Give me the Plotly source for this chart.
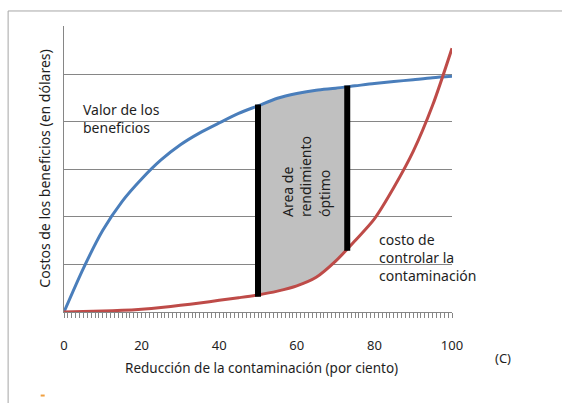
import numpy as np
import plotly.graph_objects as go

# ---- data ----
reduction_pct = [0, 5, 10, 15, 20, 25, 30, 35, 40, 45, 50,
                 55, 60, 65, 70, 75, 80, 85, 90, 95, 100]
benefit_value = [0, 0.92, 1.72, 2.33, 2.8, 3.2, 3.52, 3.77, 3.98, 4.18, 4.34,
                 4.5, 4.6, 4.67, 4.71, 4.76, 4.81, 4.85, 4.89, 4.93, 4.96]
control_cost = [0, 0.01, 0.02, 0.035, 0.06, 0.095, 0.14, 0.19, 0.245, 0.3, 0.36,
                0.44, 0.55, 0.73, 1.07, 1.5, 1.96, 2.62, 3.38, 4.35, 5.55]
optimal_bounds = [50, 73]
x_tick_vals = [0, 20, 40, 60, 80, 100]
x_tick_text = ["0", "20", "40", "60", "80", "100"]
y_grid_vals = [0, 1, 2, 3, 4, 5, 6]

BLUE = "#4a7ebb"
RED = "#be4b48"
GRID = "#868686"
FONT = "Noto Sans"
TXT = "#1e1e1e"

W, H = 562, 403
Y_MAX = 6.02
X_MAX = 100
# plot area in page pixels
L, R, B = 64.3, 451.7, 312.3
UNIT = (B - 26.7) / 6.0
T = B - Y_MAX * UNIT
XUNIT = (R - L) / X_MAX
TICK_PX = 6


def px(x):
    return (x - L) / (R - L)


def py(y):
    return (B - y) / (B - T)


xs = np.array(reduction_pct, float)
bv = np.array(benefit_value, float)
cc = np.array(control_cost, float)

lo, hi = optimal_bounds
inner = xs[(xs > lo) & (xs < hi)]
fx = np.concatenate([[lo], inner, [hi]])
top = np.interp(fx, xs, bv)
bot = np.interp(fx, xs, cc)

fig = go.Figure()

# shaded optimal area
fig.add_trace(go.Scatter(
    x=np.concatenate([fx, fx[::-1]]),
    y=np.concatenate([top, bot[::-1]]),
    fill="toself", fillcolor="#c0c0c0", mode="lines",
    line=dict(width=0), hoverinfo="skip", showlegend=False))

fig.add_trace(go.Scatter(x=reduction_pct, y=benefit_value, mode="lines",
                         line=dict(color=BLUE, width=3, shape="spline", smoothing=0.8),
                         showlegend=False))
fig.add_trace(go.Scatter(x=reduction_pct, y=control_cost, mode="lines",
                         line=dict(color=RED, width=3, shape="spline", smoothing=0.8),
                         showlegend=False))

# black boundary bars
for xb in optimal_bounds:
    y0 = float(np.interp(xb, xs, cc)) - 0.04
    y1 = float(np.interp(xb, xs, bv)) + 0.03
    fig.add_trace(go.Scatter(x=[xb, xb], y=[y0, y1], mode="lines",
                             line=dict(color="black", width=6),
                             showlegend=False))

# dense category tick strip under the x axis (one tick per unit)
minor_x = np.arange(0, X_MAX + 1)
fig.add_trace(go.Scatter(
    x=minor_x, y=np.full(minor_x.shape, -(TICK_PX / 2) / UNIT),
    mode="markers", cliponaxis=False, hoverinfo="skip", showlegend=False,
    marker=dict(symbol="line-ns", size=TICK_PX, line=dict(color=GRID, width=1))))
# short tick stubs left of the y axis at each gridline
fig.add_trace(go.Scatter(
    x=np.full(len(y_grid_vals), -(TICK_PX / 2) / XUNIT), y=y_grid_vals,
    mode="markers", cliponaxis=False, hoverinfo="skip", showlegend=False,
    marker=dict(symbol="line-ew", size=TICK_PX, line=dict(color=GRID, width=1))))

fig.update_layout(
    width=W, height=H,
    margin=dict(l=L, r=W - R, t=T, b=H - B),
    paper_bgcolor="white", plot_bgcolor="white",
    font=dict(family=FONT, size=12, color=TXT),
    showlegend=False,
)

fig.update_xaxes(
    range=[0, X_MAX], showgrid=False, zeroline=False,
    showline=True, linecolor=GRID, linewidth=1,
    tickmode="array", tickvals=x_tick_vals, ticktext=x_tick_text,
    ticks="outside", ticklen=5, tickcolor=GRID,
    minor=dict(dtick=1, ticks="outside", ticklen=5, tickcolor=GRID, showgrid=False),
    ticklabelstandoff=16,
    tickfont=dict(family=FONT, size=13, color=TXT),
)
fig.update_yaxes(
    range=[0, Y_MAX], dtick=1, showgrid=True, gridcolor=GRID, gridwidth=1,
    zeroline=False, showline=True, linecolor=GRID, linewidth=1,
    showticklabels=False, ticks="",
)

ann = []
ann.append(dict(text="Costos de los beneficios (en dólares)", x=px(45), y=py(169),
                textangle=-90, font=dict(size=14)))
ann.append(dict(text="Reducción de la contaminación (por ciento)", x=px(261), y=py(368),
                font=dict(size=13.5)))
ann.append(dict(text="(C)", x=px(503), y=py(358), font=dict(size=13)))
ann.append(dict(text="Valor de los<br>beneficios", x=px(81), y=py(118), xanchor="left",
                align="left", font=dict(size=14)))
ann.append(dict(text="costo de<br>controlar la<br>contaminación", x=px(377), y=py(258),
                xanchor="left", align="left", font=dict(size=14)))
ann.append(dict(text="Area de<br>rendimiento<br>óptimo", x=px(306), y=py(177),
                textangle=-90, align="left", font=dict(size=14)))
for a in ann:
    a.update(xref="paper", yref="paper", showarrow=False)
    a.setdefault("xanchor", "center")
    a.setdefault("yanchor", "middle")
fig.update_layout(annotations=ann)

# outer frame and small mark
fig.add_shape(type="rect", xref="paper", yref="paper",
              x0=px(8.5), y0=py(10.7), x1=px(640), y1=py(460),
              line=dict(color="#a6a6a6", width=1), layer="below")
fig.add_shape(type="line", xref="paper", yref="paper",
              x0=px(41), y0=py(396), x1=px(45), y1=py(396),
              line=dict(color="#f0a040", width=2))

fig.write_html("out.html", config={"displayModeBar": False},
               post_script="document.body.style.margin='0';")
